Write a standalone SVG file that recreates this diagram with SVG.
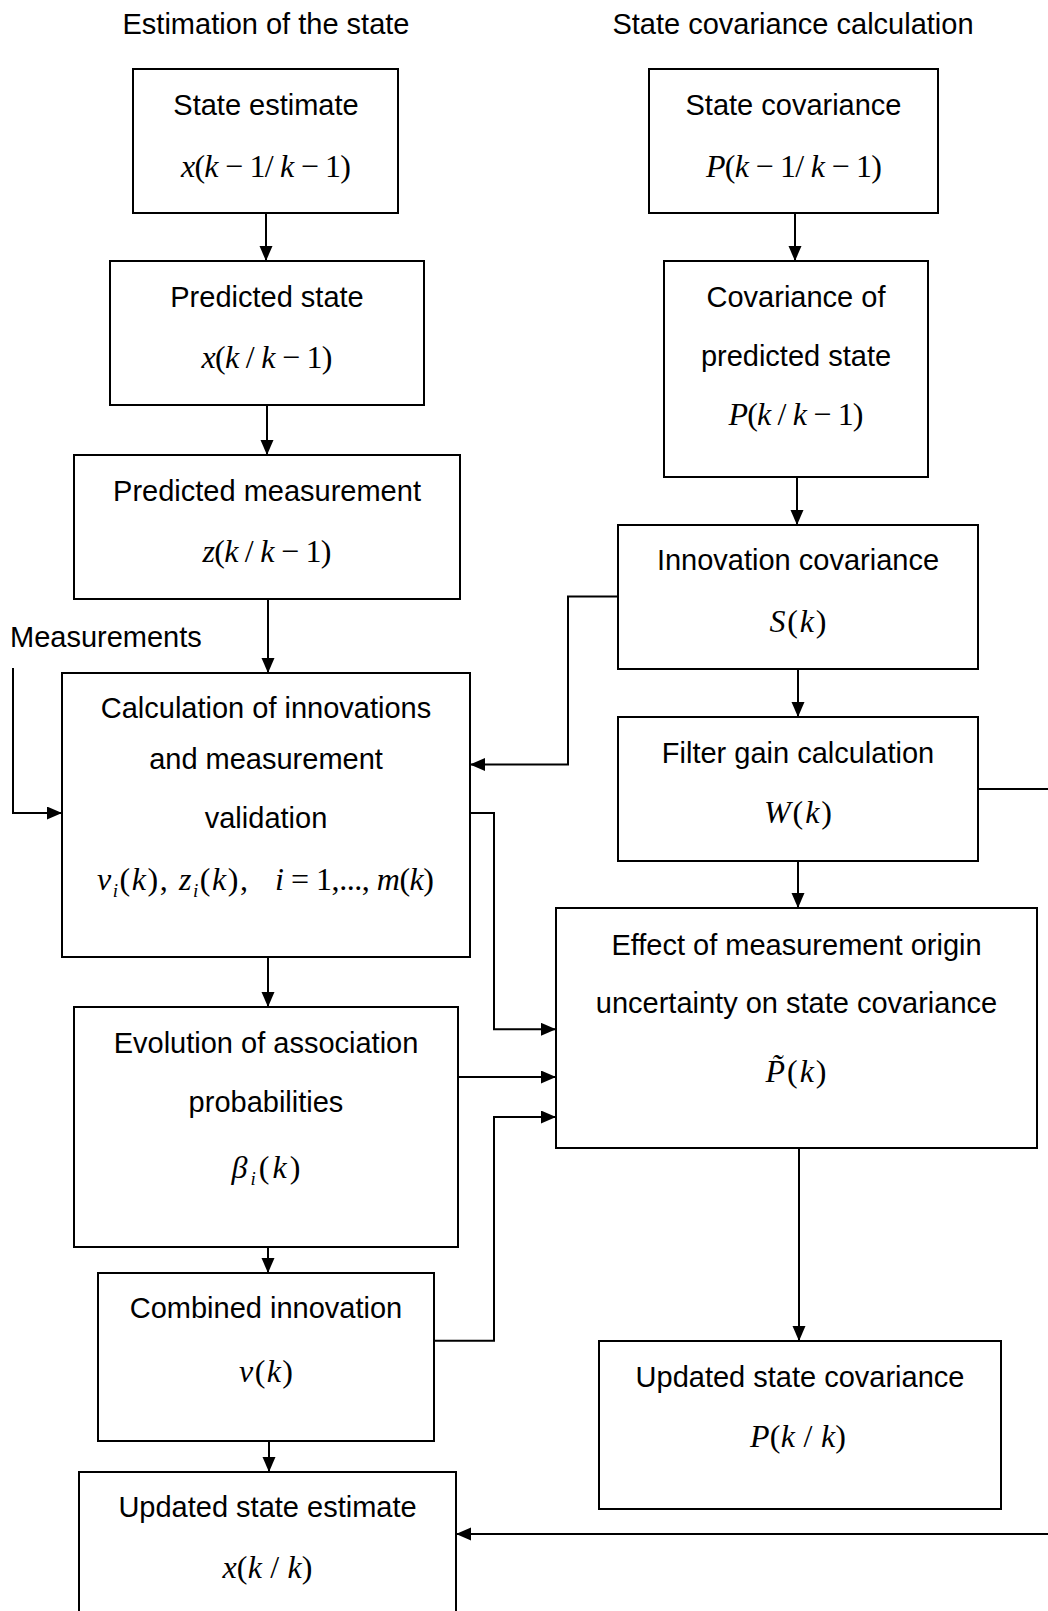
<svg xmlns="http://www.w3.org/2000/svg" width="1048" height="1611" viewBox="0 0 1048 1611">
<style>
.box{fill:#fff;stroke:#000;stroke-width:2}
.t{font-family:"Liberation Sans",Arial,sans-serif;font-size:29px;fill:#000;text-anchor:middle}
.m{font-family:"Liberation Serif","Times New Roman",serif;font-size:32px;fill:#000;text-anchor:middle}
.i{font-style:italic}
.sub{font-size:19px}
.c path{fill:none;stroke:#000;stroke-width:2}
</style>
<defs>
<marker id="ah" markerUnits="userSpaceOnUse" markerWidth="16" markerHeight="14" refX="15" refY="6.5" orient="auto">
<path d="M0,0 L15,6.5 L0,13 Z" fill="#000"/>
</marker>
</defs>
<rect x="0" y="0" width="1048" height="1611" fill="#fff"/>
<text class="t" x="266" y="33.5">Estimation of the state</text>
<text class="t" x="793" y="33.5">State covariance calculation</text>
<text class="t" x="10" y="646.7" style="text-anchor:start">Measurements</text>

<g id="n1">
<rect class="box" x="133" y="69" width="265" height="144"/>
<text class="t" x="266" y="115">State estimate</text>
<text class="m" x="266" y="177" textLength="170" lengthAdjust="spacing"><tspan class="i">x</tspan>(<tspan class="i">k</tspan> − 1/ <tspan class="i">k</tspan> − 1)</text>
</g>
<g id="n2">
<rect class="box" x="110" y="261" width="314" height="144"/>
<text class="t" x="267" y="306.7">Predicted state</text>
<text class="m" x="267" y="367.7" textLength="131" lengthAdjust="spacing"><tspan class="i">x</tspan>(<tspan class="i">k</tspan> / <tspan class="i">k</tspan> − 1)</text>
</g>
<g id="n3">
<rect class="box" x="74" y="455" width="386" height="144"/>
<text class="t" x="267" y="501">Predicted measurement</text>
<text class="m" x="267" y="561.7" textLength="129" lengthAdjust="spacing"><tspan class="i">z</tspan>(<tspan class="i">k</tspan> / <tspan class="i">k</tspan> − 1)</text>
</g>
<g id="n4">
<rect class="box" x="62" y="673" width="408" height="284"/>
<text class="t" x="266" y="718.3">Calculation of innovations</text>
<text class="t" x="266" y="769">and measurement</text>
<text class="t" x="266" y="827.7">validation</text>
<text class="m" x="97" y="890" style="text-anchor:start" textLength="151" lengthAdjust="spacing"><tspan class="i">v</tspan><tspan class="i sub" dy="7">i</tspan><tspan dy="-7">(</tspan><tspan class="i">k</tspan>), <tspan class="i">z</tspan><tspan class="i sub" dy="7">i</tspan><tspan dy="-7">(</tspan><tspan class="i">k</tspan>),</text>
<text class="m" x="275" y="890" style="text-anchor:start" textLength="159" lengthAdjust="spacing"><tspan class="i">i</tspan> = 1,..., <tspan class="i">m</tspan>(<tspan class="i">k</tspan>)</text>
</g>
<g id="n5">
<rect class="box" x="74" y="1007" width="384" height="240"/>
<text class="t" x="266" y="1052.7">Evolution of association</text>
<text class="t" x="266" y="1111.7">probabilities</text>
<text class="m" x="266" y="1178" textLength="69" lengthAdjust="spacing"><tspan class="i">β</tspan><tspan class="i sub" dy="7">i</tspan><tspan dy="-7">(</tspan><tspan class="i">k</tspan>)</text>
</g>
<g id="n6">
<rect class="box" x="98" y="1273" width="336" height="168"/>
<text class="t" x="266" y="1318">Combined innovation</text>
<text class="m" x="266" y="1381.7" textLength="54" lengthAdjust="spacing"><tspan class="i">v</tspan>(<tspan class="i">k</tspan>)</text>
</g>
<g id="n7">
<rect class="box" x="79" y="1472" width="377" height="170"/>
<text class="t" x="267.5" y="1517.3">Updated state estimate</text>
<text class="m" x="267.5" y="1578.3" textLength="90" lengthAdjust="spacing"><tspan class="i">x</tspan>(<tspan class="i">k</tspan> / <tspan class="i">k</tspan>)</text>
</g>

<g id="r1">
<rect class="box" x="649" y="69" width="289" height="144"/>
<text class="t" x="793.5" y="115">State covariance</text>
<text class="m" x="794" y="177" textLength="176" lengthAdjust="spacing"><tspan class="i">P</tspan>(<tspan class="i">k</tspan> − 1/ <tspan class="i">k</tspan> − 1)</text>
</g>
<g id="r2">
<rect class="box" x="664" y="261" width="264" height="216"/>
<text class="t" x="796" y="306.7">Covariance of</text>
<text class="t" x="796" y="366">predicted state</text>
<text class="m" x="796" y="425" textLength="135" lengthAdjust="spacing"><tspan class="i">P</tspan>(<tspan class="i">k</tspan> / <tspan class="i">k</tspan> − 1)</text>
</g>
<g id="r3">
<rect class="box" x="618" y="525" width="360" height="144"/>
<text class="t" x="798" y="570">Innovation covariance</text>
<text class="m" x="798" y="631.7" textLength="57" lengthAdjust="spacing"><tspan class="i">S</tspan>(<tspan class="i">k</tspan>)</text>
</g>
<g id="r4">
<rect class="box" x="618" y="717" width="360" height="144"/>
<text class="t" x="798" y="762.7">Filter gain calculation</text>
<text class="m" x="798" y="823.3" textLength="68" lengthAdjust="spacing"><tspan class="i">W</tspan>(<tspan class="i">k</tspan>)</text>
</g>
<g id="r5">
<rect class="box" x="556" y="908" width="481" height="240"/>
<text class="t" x="796.5" y="955">Effect of measurement origin</text>
<text class="t" x="796.5" y="1013.3">uncertainty on state covariance</text>
<text class="m" x="796" y="1081.7" textLength="61" lengthAdjust="spacing"><tspan class="i">P&#x303;</tspan>(<tspan class="i">k</tspan>)</text>
</g>
<g id="r6">
<rect class="box" x="599" y="1341" width="402" height="168"/>
<text class="t" x="800" y="1386.7">Updated state covariance</text>
<text class="m" x="798" y="1446.7" textLength="96" lengthAdjust="spacing"><tspan class="i">P</tspan>(<tspan class="i">k</tspan> / <tspan class="i">k</tspan>)</text>
</g>

<g id="connectors" class="c">
<path d="M266,213 V261" marker-end="url(#ah)"/>
<path d="M267,405 V455" marker-end="url(#ah)"/>
<path d="M268,599 V673" marker-end="url(#ah)"/>
<path d="M268,957 V1007" marker-end="url(#ah)"/>
<path d="M268,1247 V1273" marker-end="url(#ah)"/>
<path d="M269,1441 V1472" marker-end="url(#ah)"/>
<path d="M795,213 V261" marker-end="url(#ah)"/>
<path d="M797,477 V525" marker-end="url(#ah)"/>
<path d="M798,669 V717" marker-end="url(#ah)"/>
<path d="M798,861 V908" marker-end="url(#ah)"/>
<path d="M799,1148 V1341" marker-end="url(#ah)"/>
<path d="M13,668 V813 H62" marker-end="url(#ah)"/>
<path d="M618,596.5 H568 V764.5 H470" marker-end="url(#ah)"/>
<path d="M470,813 H494 V1029.3 H556" marker-end="url(#ah)"/>
<path d="M458,1077 H556" marker-end="url(#ah)"/>
<path d="M434,1340.7 H494 V1117 H556" marker-end="url(#ah)"/>
<path d="M978,789 H1048"/>
<path d="M1048,1534 H456" marker-end="url(#ah)"/>
</g>
</svg>
